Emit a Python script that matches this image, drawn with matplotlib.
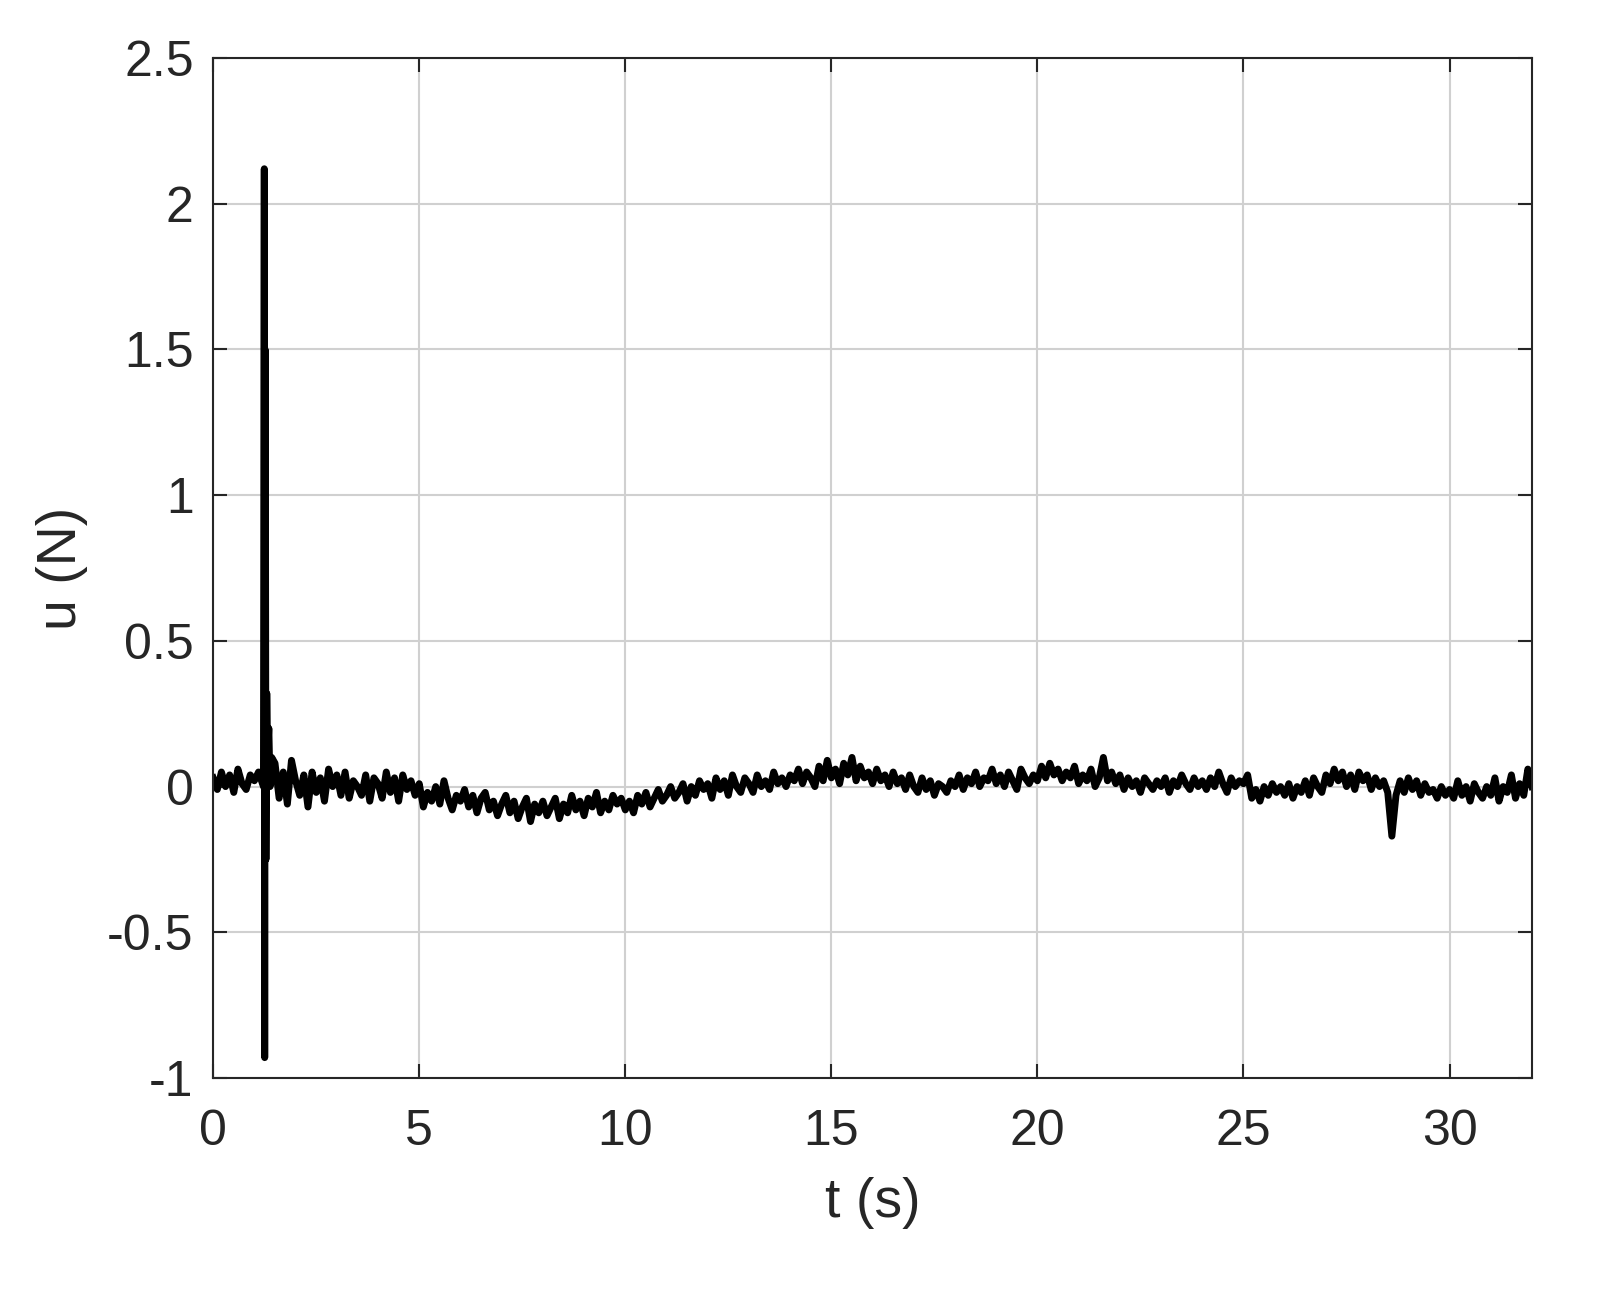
import numpy as np
import matplotlib.pyplot as plt

plt.rcParams['font.family'] = ['Liberation Sans', 'DejaVu Sans']

DT = 0.1
U_BASE = [
    0.03, -0.01, 0.05, 0.00, 0.04, -0.02, 0.06, 0.01, -0.01, 0.04,
    0.02, 0.05, -0.02, 0.00, 0.03, 0.08, -0.04, 0.05, -0.06, 0.09,
    0.02, -0.03, 0.04, -0.07, 0.05, -0.02, 0.03, -0.05, 0.06, 0.00,
    0.04, -0.03, 0.05, -0.04, 0.02, 0.00, -0.03, 0.04, -0.05, 0.03,
    0.01, -0.04, 0.05, -0.02, 0.03, -0.05, 0.04, -0.01, 0.02, -0.03,
    0.01, -0.07, -0.02, -0.05, 0.00, -0.06, 0.02, -0.04, -0.08, -0.03,
    -0.05, -0.01, -0.07, -0.03, -0.09, -0.04, -0.02, -0.08, -0.05, -0.10,
    -0.06, -0.03, -0.09, -0.05, -0.11, -0.07, -0.04, -0.12, -0.06, -0.09,
    -0.05, -0.10, -0.07, -0.04, -0.11, -0.06, -0.09, -0.03, -0.08, -0.05,
    -0.10, -0.04, -0.07, -0.02, -0.09, -0.05, -0.08, -0.03, -0.06, -0.04,
    -0.08, -0.05, -0.09, -0.03, -0.06, -0.02, -0.07, -0.04, -0.01, -0.05,
    -0.03, 0.00, -0.04, -0.02, 0.01, -0.05, 0.00, -0.03, 0.02, -0.01,
    0.01, -0.04, 0.03, -0.01, 0.02, -0.03, 0.04, 0.00, -0.02, 0.03,
    0.01, -0.02, 0.04, 0.00, 0.02, -0.01, 0.05, 0.01, 0.03, 0.00,
    0.04, 0.02, 0.06, 0.01, 0.05, 0.03, 0.00, 0.07, 0.02, 0.09,
    0.03, 0.06, 0.01, 0.08, 0.04, 0.10, 0.02, 0.07, 0.03, 0.05,
    0.01, 0.06, 0.02, 0.04, 0.00, 0.05, 0.01, 0.03, -0.01, 0.04,
    0.00, -0.02, 0.03, -0.01, 0.02, -0.03, 0.01, 0.00, -0.02, 0.02,
    0.00, 0.04, -0.01, 0.03, 0.01, 0.05, 0.00, 0.03, 0.02, 0.06,
    0.01, 0.04, 0.00, 0.05, 0.02, -0.01, 0.06, 0.03, 0.01, 0.04,
    0.02, 0.07, 0.03, 0.08, 0.04, 0.06, 0.02, 0.05, 0.03, 0.07,
    0.01, 0.04, 0.02, 0.06, 0.00, 0.03, 0.10, 0.02, 0.05, 0.01,
    0.04, -0.01, 0.03, 0.00, 0.02, -0.02, 0.03, 0.01, -0.01, 0.02,
    0.00, 0.03, -0.02, 0.02, 0.00, 0.04, 0.01, -0.01, 0.03, 0.00,
    0.02, -0.01, 0.03, 0.00, 0.05, 0.01, -0.02, 0.03, 0.00, 0.02,
    0.01, 0.04, -0.04, -0.01, -0.05, 0.00, -0.03, 0.01, -0.02, 0.00,
    -0.03, 0.01, -0.04, 0.00, -0.02, 0.02, -0.03, 0.03, 0.00, -0.02,
    0.04, 0.01, 0.06, 0.02, 0.05, 0.00, 0.04, -0.01, 0.05, 0.02,
    0.04, -0.01, 0.03, 0.00, 0.02, -0.02, -0.17, -0.03, 0.02, -0.02,
    0.03, -0.01, 0.02, -0.03, 0.01, -0.02, -0.01, -0.04, 0.00, -0.03,
    -0.01, -0.04, 0.02, -0.03, 0.00, -0.05, 0.01, -0.02, -0.04, 0.00,
    -0.03, 0.03, -0.05, 0.00, -0.02, 0.04, -0.04, 0.01, -0.03, 0.06,
    0.00,
]
# fine samples around the spike at t ~ 1.25 s
T_SPIKE = [1.22, 1.24, 1.25, 1.26, 1.27, 1.28, 1.30, 1.32, 1.35, 1.38, 1.42]
U_SPIKE = [0.00, 2.12, -0.93, 1.50, 0.80, -0.25, 0.32, 0.10, 0.20, 0.00, 0.10]

t_base = np.arange(len(U_BASE)) * DT
u_base = np.array(U_BASE)
keep = (t_base < 1.2) | (t_base > 1.45)
t = np.concatenate([t_base[keep], T_SPIKE])
u = np.concatenate([u_base[keep], U_SPIKE])
order = np.argsort(t)
t, u = t[order], u[order]

fig = plt.figure(figsize=(16.15, 13.01), dpi=100)
ax = fig.add_axes([0.132, 0.1714, 0.8166, 0.784])
ax.plot(t, u, color='black', linewidth=5)

ax.set_xlim(0, 32)
ax.set_ylim(-1, 2.5)
ax.set_xticks(range(0, 31, 5))
ax.set_yticks([-1, -0.5, 0, 0.5, 1, 1.5, 2, 2.5])
ax.set_yticklabels(['-1', '-0.5', '0', '0.5', '1', '1.5', '2', '2.5'])
ax.grid(True, color='#d0d0d0', linewidth=1.5)
ax.tick_params(direction='in', length=10, width=1.5, labelsize=36,
               top=True, right=True, pad=14, colors='#262626')
ax.tick_params(axis='x', pad=22)
for s in ax.spines.values():
    s.set_linewidth(1.5)
    s.set_color('#262626')
ax.set_xlabel('t (s)', fontsize=40, color='#262626', labelpad=16)
ax.set_ylabel('u (N)', fontsize=40, color='#262626', labelpad=14)

fig.savefig('out.png', dpi=100)
